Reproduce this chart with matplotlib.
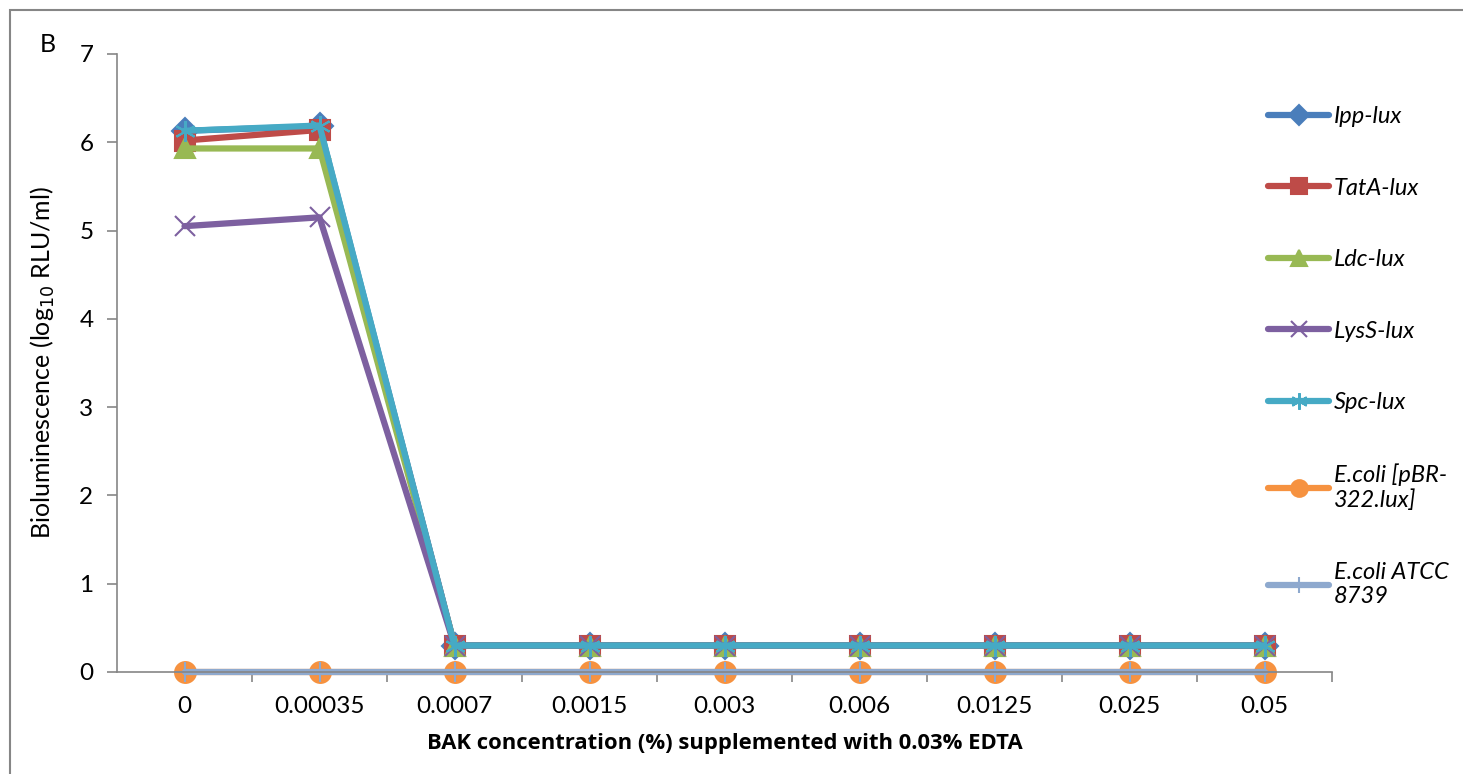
import matplotlib.pyplot as plt
from matplotlib.patches import Rectangle

plt.rcParams['font.family'] = ['Lato', 'DejaVu Sans']

concentrations = ['0', '0.00035', '0.0007', '0.0015', '0.003', '0.006', '0.0125', '0.025', '0.05']

ipp_lux = [6.13, 6.18, 0.3, 0.3, 0.3, 0.3, 0.3, 0.3, 0.3]
tata_lux = [6.02, 6.14, 0.3, 0.3, 0.3, 0.3, 0.3, 0.3, 0.3]
ldc_lux = [5.93, 5.93, 0.3, 0.3, 0.3, 0.3, 0.3, 0.3, 0.3]
lyss_lux = [5.05, 5.15, 0.3, 0.3, 0.3, 0.3, 0.3, 0.3, 0.3]
spc_lux = [6.13, 6.19, 0.3, 0.3, 0.3, 0.3, 0.3, 0.3, 0.3]
ecoli_pbr = [0, 0, 0, 0, 0, 0, 0, 0, 0]
ecoli_atcc = [0, 0, 0, 0, 0, 0, 0, 0, 0]

series = [
    ('Ipp-lux', ipp_lux, '#4A7EBB', 'D', 13),
    ('TatA-lux', tata_lux, '#BE4B48', 's', 14),
    ('Ldc-lux', ldc_lux, '#98B954', '^', 15),
    ('LysS-lux', lyss_lux, '#7D60A0', 'x', 14),
    ('Spc-lux', spc_lux, '#46AAC5', (6, 2, 0), 15),
    ('E.coli [pBR-\n322.lux]', ecoli_pbr, '#F69240', 'o', 15),
    ('E.coli ATCC\n8739', ecoli_atcc, '#8EA9CE', '+', 15),
]

fig = plt.figure(figsize=(14.63, 7.74), dpi=100)
ax = fig.add_axes([117/1463, 1-672/774, (1332-117)/1463, (672-54)/774])

x = list(range(len(concentrations)))
for label, vals, color, marker, ms in series:
    ax.plot(x, vals, color=color, lw=4.5, marker=marker, markersize=ms,
            markerfacecolor=color, markeredgecolor=color, markeredgewidth=1.5,
            label=label, solid_capstyle='round', clip_on=False)

ax.set_xlim(-0.5, 8.5)
ax.set_ylim(0, 7)
ax.set_yticks(range(8))
ax.set_xticks(x)
ax.set_xticklabels(concentrations)
ax.set_xticks([i - 0.5 for i in range(1, 10)], minor=True)
ax.tick_params(axis='x', which='major', length=0, labelsize=17.5, pad=17)
ax.tick_params(axis='x', which='minor', length=7, color='#868686', width=1.2, direction='out')
ax.tick_params(axis='y', length=7, color='#868686', width=1.2, labelsize=17.5, pad=10)
for s in ['top', 'right']:
    ax.spines[s].set_visible(False)
for s in ['left', 'bottom']:
    ax.spines[s].set_color('#868686')
    ax.spines[s].set_linewidth(1.2)

# Lato has no bold face here, so the bold axis title uses Open Sans
ax.set_xlabel('BAK concentration (%) supplemented with 0.03% EDTA', fontsize=15.8,
              fontweight='bold', family=['Open Sans', 'DejaVu Sans'], labelpad=12)
ax.set_ylabel('Bioluminescence (log$_{10}$ RLU/ml)', fontsize=18, labelpad=16)

leg = fig.legend(loc='upper left', bbox_to_anchor=(1268/1463, 1-106/774), frameon=False,
                 labelspacing=2.14, handlelength=2.6, handletextpad=0.2, markerscale=0.8,
                 borderpad=0, borderaxespad=0, prop={'style': 'italic', 'size': 17})

fig.text(40/1463, 1-45/774, 'B', fontsize=18, va='center', ha='left')
fig.patches.append(Rectangle((10/1463, -0.05), 1.1, 1-10/774+0.05, transform=fig.transFigure,
                             fill=False, edgecolor='#868686', lw=1.5))

fig.savefig('out.png', dpi=100)
